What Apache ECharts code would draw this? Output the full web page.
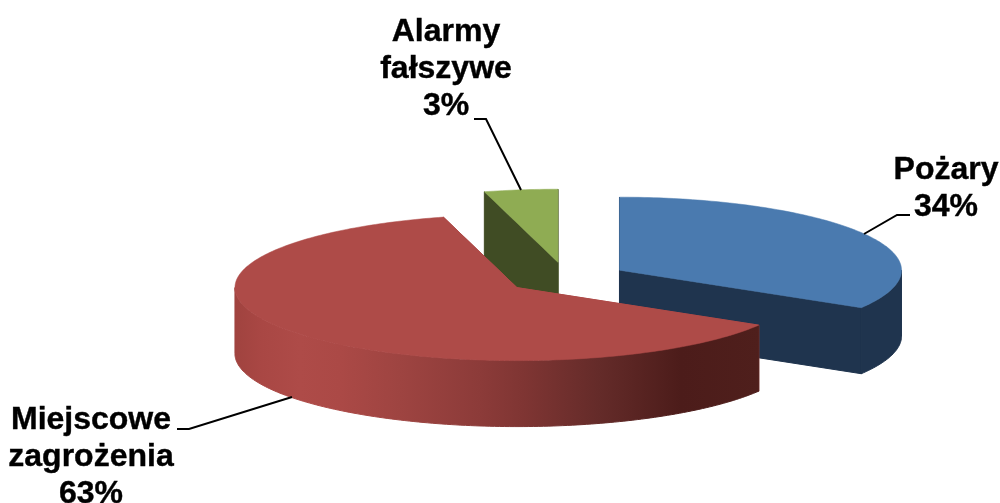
<!DOCTYPE html>
<html>
<head>
<meta charset="utf-8">
<style>html,body{margin:0;padding:0;background:#fff}#c{width:1000px;height:503px}</style>
<script src="https://cdn.jsdelivr.net/npm/echarts@6/dist/echarts.min.js"></script>
</head>
<body>
<div id="c"></div>
<script>
// Data
const categories = ["Pożary", "Miejscowe\nzagrożenia", "Alarmy\nfałszywe"];
const percentLabels = ["34%", "63%", "3%"];
// Share of the circle each slice visibly sweeps, as measured on the drawn ellipse
const sweepShares = [33.6, 62.2, 4.2];
const topColors = ["#4a7aaf", "#ae4b48", "#8fac53"];
const wallColors = ["#1f344e", "#ae4b48", "#404c24"];

// Layout of the tilted, exploded pie
const CX = 566, CY = 278, RX = 282, RY = 73, DEPTH = 66, EXPLODE = 0.218;
const START_DEG = 0;
const drawOrder = [2, 0, 1];
const labelLayout = [
  { x: 946, y: 189, leader: [[910, 215], [897, 215], [864, 234]] },
  { x: 91, y: 457, leader: [[177, 429], [189, 429], [292, 397]] },
  { x: 446, y: 69, leader: [[474, 119], [486, 119], [521, 190]] }
];
const redWall = {
  type: "linear", x: 235, y: 0, x2: 760, y2: 0, global: true,
  colorStops: [
    { offset: 0, color: "#a0433f" }, { offset: 0.05, color: "#a94744" },
    { offset: 0.124, color: "#ae4b48" }, { offset: 0.2, color: "#ab4946" },
    { offset: 0.314, color: "#9e4441" }, { offset: 0.467, color: "#8c3b39" },
    { offset: 0.55, color: "#7f3533" }, { offset: 0.695, color: "#642b29" },
    { offset: 0.85, color: "#4c1c1a" }, { offset: 1, color: "#4f1f1c" }
  ]
};

const total = sweepShares.reduce((a, b) => a + b, 0);
const ranges = [];
sweepShares.reduce((acc, v) => {
  const sweep = v / total * 360;
  ranges.push([acc, acc + sweep]);
  return acc + sweep;
}, START_DEG);

const rad = d => d * Math.PI / 180;
function sliceGeometry(i) {
  const [a0, a1] = ranges[i];
  const mid = rad((a0 + a1) / 2);
  const ox = CX + EXPLODE * RX * Math.sin(mid);
  const oy = CY - EXPLODE * RY * Math.cos(mid);
  const pt = d => [ox + RX * Math.sin(rad(d)), oy - RY * Math.cos(rad(d))];
  return { a0, a1, ox, oy, pt };
}
function arc(pt, from, to) {
  const pts = [];
  const n = Math.max(2, Math.ceil(Math.abs(to - from)));
  for (let k = 0; k <= n; k++) pts.push(pt(from + (to - from) * k / n));
  return pts;
}
const drop = p => [p[0], p[1] + DEPTH];

function renderItem(params, api) {
  const i = api.value(0);
  const g = sliceGeometry(i);
  const apex = [g.ox, g.oy];
  const children = [];
  const wallFill = i === 1 ? redWall : wallColors[i];
  const face = (p, fill, strokeW) => children.push({
    type: "polygon", shape: { points: p },
    style: { fill, stroke: fill, lineWidth: strokeW }
  });
  // Radial cut faces
  [g.a0, g.a1].forEach(d => {
    const e = g.pt(d);
    face([apex, e, drop(e), drop(apex)], wallColors[i], 1);
  });
  // Outer wall: only the part on the front half of the ellipse (90..270 deg)
  const from = Math.max(g.a0, 90), to = Math.min(g.a1, 270);
  if (to > from) {
    const upper = arc(g.pt, from, to);
    face(upper.concat(upper.slice().reverse().map(drop)), wallFill, 1);
  }
  // Top surface
  face([apex].concat(arc(g.pt, g.a0, g.a1)), topColors[i], 0.5);
  // Label and leader line
  const l = labelLayout[i];
  children.push({
    type: "polyline", shape: { points: l.leader },
    style: { fill: null, stroke: "#000", lineWidth: 2 }
  });
  children.push({
    type: "text",
    style: {
      text: categories[i] + "\n" + percentLabels[i],
      x: l.x, y: l.y, align: "center", verticalAlign: "middle",
      font: "bold 32px 'Liberation Sans', Arial, sans-serif",
      lineHeight: 37, fill: "#000", stroke: "#000", lineWidth: 0.4
    }
  });
  return { type: "group", children };
}

const chart = echarts.init(document.getElementById("c"), null, { renderer: "canvas" });
chart.setOption({
  animation: false,
  backgroundColor: "#fff",
  series: [{
    type: "custom",
    coordinateSystem: "none",
    renderItem,
    clip: false,
    data: drawOrder.map(i => [i]),
    encode: { value: 0 }
  }]
});
</script>
</body>
</html>
